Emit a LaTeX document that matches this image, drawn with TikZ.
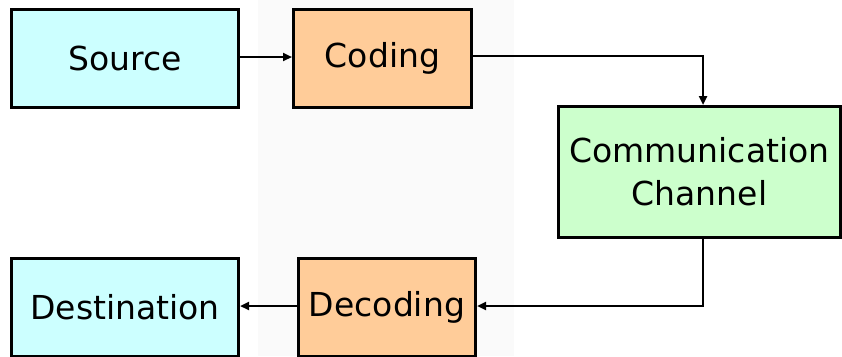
\documentclass[tikz,border=0pt]{standalone}
\usepackage{fontspec}
\setmainfont{DejaVu Sans}
\usetikzlibrary{arrows.meta,positioning}
\definecolor{srcblue}{HTML}{CCFFFF}
\definecolor{codeorange}{HTML}{FFCC99}
\definecolor{chgreen}{HTML}{CCFFCC}
\tikzset{
  blockbox/.style={draw=black, line width=3pt, inner sep=0pt, anchor=north west,
    font=\fontsize{33}{43}\selectfont, align=center},
  flow/.style={line width=2.4pt, -{Triangle[length=9pt,width=8pt]}},
}
\begin{document}
\begin{tikzpicture}[x=1pt,y=-1pt]
  \useasboundingbox (0,0) rectangle (842,356);
  % faint textured backdrop strip
  \fill[black!2] (258,0) rectangle (514,356);
  % blocks
  \node[blockbox, fill=srcblue, minimum width=227pt, minimum height=98pt] (src) at (10,8) {Source};
  \node[blockbox, fill=codeorange, minimum width=178pt, minimum height=98pt] (cod) at (292,8) {Coding};
  \node[blockbox, fill=chgreen, minimum width=282pt, minimum height=131pt] (chan) at (557,105) {Communication\\Channel};
  \node[blockbox, fill=codeorange, minimum width=177pt, minimum height=98pt] (dec) at (297,257) {Decoding};
  \node[blockbox, fill=srcblue, minimum width=227pt, minimum height=98pt] (dst) at (10,257) {Destination};
  % connectors
  \coordinate (tr) at (703,56);
  \coordinate (br) at (703,306);
  \draw[flow] (src.east |- 0,57) -- (cod.west |- 0,57);
  \draw[flow] (cod.east |- tr) -- (tr) -- (tr |- chan.north);
  \draw[flow] (br |- chan.south) -- (br) -- (dec.east |- br);
  \draw[flow] (dec.west |- br) -- (dst.east |- br);
\end{tikzpicture}
\end{document}
